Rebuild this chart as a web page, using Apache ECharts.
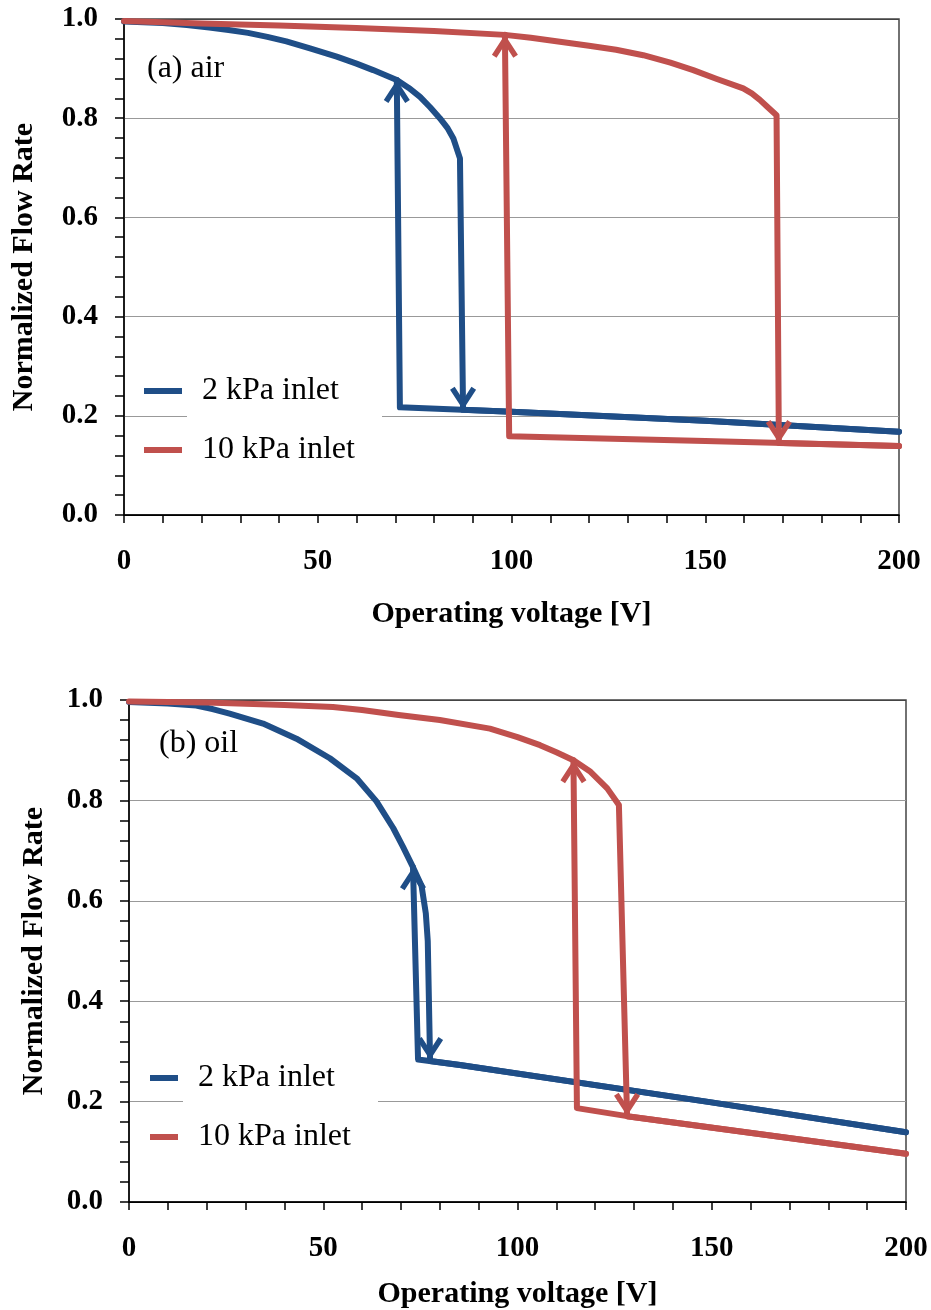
<!DOCTYPE html>
<html>
<head>
<meta charset="utf-8">
<title>Normalized Flow Rate vs Operating voltage</title>
<script src="https://cdn.jsdelivr.net/npm/echarts@6/dist/echarts.min.js"></script>
<style>
  html, body { margin: 0; padding: 0; background: #fff; }
  #chart { width: 931px; height: 1310px; }
</style>
</head>
<body>
<div id="chart"></div>
<script>
// values: [voltage, normalized flow rate]
// "Up" = sweep with rising voltage, "Down" = sweep back

// (a) air
const air2Up = [[0,0.995],[10,0.992],[16.2,0.988],[22,0.983],[27,0.978],[32,0.972],[37,0.964],[41.9,0.955],[48,0.941],[54.9,0.924],[60,0.91],[64.3,0.897],[70.4,0.877],[73.5,0.861],[76.4,0.843],[79,0.822],[81.5,0.8],[83.5,0.78],[85,0.759],[86.7,0.719],[87.5,0.212],[100,0.208],[150,0.19],[200,0.168]];
const air2Down = [[200,0.168],[150,0.19],[100,0.208],[71.2,0.217],[70.4,0.877]];
const air10Up = [[0,0.996],[20,0.991],[40,0.987],[60,0.982],[80,0.976],[98.3,0.968],[105,0.962],[112.5,0.954],[120,0.946],[127,0.938],[134,0.927],[141,0.912],[146.9,0.897],[153,0.879],[159.8,0.86],[162,0.85],[164.1,0.837],[166,0.823],[168.4,0.806],[169,0.145],[200,0.139]];
const air10Down = [[200,0.139],[150,0.149],[99.4,0.159],[98.3,0.968]];

// (b) oil
const oil2Up = [[0,0.996],[10,0.993],[17.3,0.989],[21.5,0.982],[25.9,0.973],[34.5,0.953],[43.1,0.923],[51.7,0.884],[58.6,0.844],[63.7,0.798],[68,0.745],[70.5,0.708],[73.1,0.667],[75.3,0.63],[76.4,0.575],[76.9,0.52],[77.5,0.281],[85.2,0.273],[149.5,0.199],[200,0.139]];
const oil2Down = [[200,0.139],[149.5,0.199],[85.2,0.273],[74.4,0.284],[73.1,0.667]];
const oil10Up = [[0,0.997],[20,0.995],[40,0.99],[52.5,0.986],[60,0.98],[69.4,0.97],[80,0.96],[92.9,0.943],[100,0.926],[105.8,0.91],[110,0.896],[114.4,0.88],[118.8,0.857],[123.1,0.824],[126.1,0.791],[128.2,0.171],[200,0.096]];
const oil10Down = [[200,0.096],[128.2,0.171],[115.3,0.187],[114.4,0.88]];

// arrow heads (tip position)
const air2Arrows = { up: [[70.4,0.877]], down: [[87.5,0.212]] };
const air10Arrows = { up: [[98.3,0.968]], down: [[169,0.145]] };
const oil2Arrows = { up: [[73.1,0.667]], down: [[77.5,0.283]] };
const oil10Arrows = { up: [[114.4,0.88]], down: [[128.2,0.172]] };

const seriesNames = ['2 kPa inlet', '10 kPa inlet'];
const panelLabels = ['(a) air', '(b) oil'];

const BLUE = '#1F4E87';
const RED = '#C0504D';
const FONT = "'Liberation Serif', 'Times New Roman', serif";

const UP_HEAD = 'path://M0,0 L13,20 L8.4,23 L0,10 L-8.4,23 L-13,20 Z';
const DOWN_HEAD = 'path://M0,23 L13,3 L8.4,0 L0,13 L-8.4,0 L-13,3 Z';

const lineSeries = (name, data, color, idx) => ({
  name: name, type: 'line', data: data,
  xAxisIndex: idx, yAxisIndex: idx,
  symbol: 'none', silent: true, z: 2,
  lineStyle: { width: 6, color: color, cap: 'round', join: 'round' },
  itemStyle: { color: color }
});

const arrowSeries = (data, dir, color, idx) => ({
  type: 'scatter', data: data,
  xAxisIndex: idx, yAxisIndex: idx,
  symbol: dir === 'up' ? UP_HEAD : DOWN_HEAD,
  symbolSize: [26, 23],
  symbolOffset: [0, dir === 'up' ? '50%' : '-50%'],
  itemStyle: { color: color, opacity: 1 },
  silent: true, z: 3
});

const xAxisCfg = (idx, nameGap) => ({
  type: 'value', gridIndex: idx, min: 0, max: 200, interval: 50,
  name: 'Operating voltage [V]', nameLocation: 'middle', nameGap: nameGap,
  nameTextStyle: { fontFamily: FONT, fontSize: 30, fontWeight: 'bold', color: '#000' },
  axisLine: { lineStyle: { color: '#000', width: 1.5 } },
  axisTick: { length: 8, lineStyle: { color: '#000', width: 1.5 } },
  minorTick: { show: true, splitNumber: 5, length: 8, lineStyle: { color: '#000', width: 1.5 } },
  axisLabel: { margin: 32, fontFamily: FONT, fontSize: 29, fontWeight: 'bold', color: '#000' },
  splitLine: { show: false }
});

const yAxisCfg = (idx, nameGap) => ({
  type: 'value', gridIndex: idx, min: 0, max: 1, interval: 0.2,
  name: 'Normalized Flow Rate', nameLocation: 'middle', nameGap: nameGap, nameRotate: 90,
  nameTextStyle: { fontFamily: FONT, fontSize: 30, fontWeight: 'bold', color: '#000' },
  axisLine: { show: true, lineStyle: { color: '#000', width: 1.5 } },
  axisTick: { show: true, length: 9, lineStyle: { color: '#000', width: 1.5 } },
  minorTick: { show: true, splitNumber: 5, length: 9, lineStyle: { color: '#000', width: 1.5 } },
  axisLabel: { margin: 26, fontFamily: FONT, fontSize: 29, fontWeight: 'bold', color: '#000',
    formatter: v => v.toFixed(1) },
  splitLine: { show: true, lineStyle: { color: ['#000', '#999', '#999', '#999', '#999', '#444'], width: 1.2 } }
});

const legendText = {
  fontFamily: FONT, fontSize: 32, color: '#000',
  backgroundColor: '#fff', padding: [13, 20, 13, 15], width: 160
};

const chart = echarts.init(document.getElementById('chart'));
chart.setOption({
  animation: false,
  backgroundColor: '#fff',
  textStyle: { fontFamily: FONT },
  title: [
    { text: panelLabels[0], left: 147, top: 53, padding: 0,
      textStyle: { fontFamily: FONT, fontSize: 32, fontWeight: 'normal', color: '#000' } },
    { text: panelLabels[1], left: 159, top: 728, padding: 0,
      textStyle: { fontFamily: FONT, fontSize: 32, fontWeight: 'normal', color: '#000' } }
  ],
  legend: [
    { data: seriesNames, orient: 'vertical', left: 144, top: 362, padding: 0, itemGap: 1,
      itemWidth: 38, itemHeight: 6, icon: 'rect', selectedMode: false, textStyle: legendText },
    { data: seriesNames, orient: 'vertical', left: 150, top: 1049, padding: 0, itemGap: 1,
      itemWidth: 28, itemHeight: 6, icon: 'rect', selectedMode: false, textStyle: legendText }
  ],
  grid: [
    { left: 124, top: 19, width: 775, height: 496, show: true, borderColor: '#444', borderWidth: 1.5,
      backgroundColor: 'transparent', outerBoundsMode: 'none' },
    { left: 129, top: 700, width: 777, height: 502, show: true, borderColor: '#444', borderWidth: 1.5,
      backgroundColor: 'transparent', outerBoundsMode: 'none' }
  ],
  xAxis: [xAxisCfg(0, 84), xAxisCfg(1, 77)],
  yAxis: [yAxisCfg(0, 85), yAxisCfg(1, 80)],
  series: [
    lineSeries(seriesNames[0], air2Up, BLUE, 0),
    lineSeries(seriesNames[0], air2Down, BLUE, 0),
    lineSeries(seriesNames[1], air10Up, RED, 0),
    lineSeries(seriesNames[1], air10Down, RED, 0),
    arrowSeries(air2Arrows.up, 'up', BLUE, 0),
    arrowSeries(air2Arrows.down, 'down', BLUE, 0),
    arrowSeries(air10Arrows.up, 'up', RED, 0),
    arrowSeries(air10Arrows.down, 'down', RED, 0),

    lineSeries(seriesNames[0], oil2Up, BLUE, 1),
    lineSeries(seriesNames[0], oil2Down, BLUE, 1),
    lineSeries(seriesNames[1], oil10Up, RED, 1),
    lineSeries(seriesNames[1], oil10Down, RED, 1),
    arrowSeries(oil2Arrows.up, 'up', BLUE, 1),
    arrowSeries(oil2Arrows.down, 'down', BLUE, 1),
    arrowSeries(oil10Arrows.up, 'up', RED, 1),
    arrowSeries(oil10Arrows.down, 'down', RED, 1)
  ]
});
</script>
</body>
</html>
